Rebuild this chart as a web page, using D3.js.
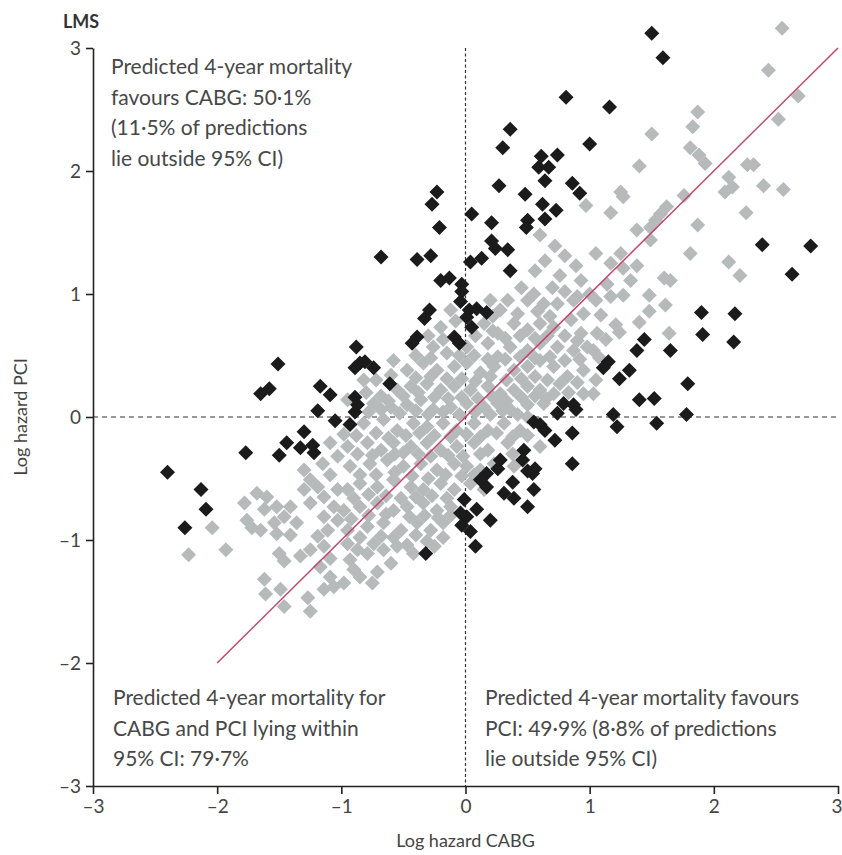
<!DOCTYPE html>
<html>
<head>
<meta charset="utf-8">
<script src="https://cdn.jsdelivr.net/npm/d3@7"></script>
<style>
  body { margin: 0; background: #fff; }
  text { font-family: Lato, "Open Sans", sans-serif; }
</style>
</head>
<body>
<script>
// ticks and labels
const xTicks = [-3, -2, -1, 0, 1, 2, 3];
const yTicks = [-3, -2, -1, 0, 1, 2, 3];
const panelTitle = 'LMS';
const xTitle = 'Log hazard CABG';
const yTitle = 'Log hazard PCI';
const topLeftNote = ['Predicted 4-year mortality', 'favours CABG: 50·1%', '(11·5% of predictions', 'lie outside 95% CI)'];
const bottomLeftNote = ['Predicted 4-year mortality for', 'CABG and PCI lying within', '95% CI: 79·7%'];
const bottomRightNote = ['Predicted 4-year mortality favours', 'PCI: 49·9% (8·8% of predictions', 'lie outside 95% CI)'];
const identityLine = [[-2, -2], [3, 3]];

// predictions outside the 95% CI (black)
const outsidePoints = [
  [1.50,3.12],[1.59,2.92],[0.81,2.60],[1.16,2.52],[0.36,2.34],[0.30,2.19],[1.00,2.22],
  [0.61,2.12],[0.74,2.13],[0.59,2.03],[0.67,2.03],[0.64,1.92],[0.27,1.88],[0.48,1.81],
  [0.86,1.90],[0.92,1.82],[0.62,1.73],[0.73,1.68],[0.64,1.61],[0.50,1.60],[0.49,1.54],
  [0.05,1.65],[0.21,1.58],[-0.23,1.83],[-0.27,1.73],[-0.21,1.54],[-0.68,1.30],[-0.39,1.28],[-0.28,1.31],
  [0.21,1.43],[0.24,1.37],[0.34,1.36],[0.04,1.26],[0.13,1.29],[0.36,1.19],
  [-0.20,1.11],[-0.13,1.13],[-0.03,1.08],
  [2.39,1.40],[2.78,1.39],[2.63,1.16],
  [-1.51,0.43],[-1.65,0.19],[-1.58,0.23],[-1.17,0.25],[-1.09,0.18],[-1.19,0.05],[-1.05,-0.03],
  [-1.30,-0.12],[-1.44,-0.21],[-1.50,-0.31],[-1.33,-0.25],[-1.23,-0.23],[-1.22,-0.29],[-1.77,-0.29],
  [-2.40,-0.45],[-2.13,-0.59],[-2.09,-0.75],[-2.26,-0.90],
  [-0.03,1.02],[-0.29,0.87],[-0.33,0.80],[-0.04,0.94],[0.03,0.87],[0.09,0.88],[0.17,0.85],[0.01,0.81],[0.05,0.73],
  [-0.39,0.65],[-0.43,0.60],[-0.09,0.65],[-0.05,0.60],[-0.88,0.57],[-0.85,0.44],[-0.81,0.45],[-0.74,0.40],[-0.89,0.40],
  [-0.61,0.27],[-0.89,0.16],[-0.87,0.10],[-0.89,0.04],[-0.93,-0.06],
  [0.79,0.11],[0.87,0.10],[0.74,0.03],[0.89,0.06],[0.55,-0.04],[0.60,-0.06],[0.64,-0.11],[0.72,-0.19],[0.86,-0.13],[0.86,-0.38],
  [0.47,-0.27],[0.46,-0.35],[0.56,-0.42],[0.50,-0.44],[0.54,-0.46],[0.28,-0.35],[0.26,-0.42],[0.17,-0.46],[0.12,-0.51],[0.17,-0.57],
  [0.38,-0.53],[0.55,-0.59],[0.31,-0.62],[0.39,-0.66],[0.50,-0.73],
  [-0.01,-0.67],[-0.04,-0.78],[0.01,-0.81],[0.09,-0.75],[-0.03,-0.88],[0.04,-0.93],[0.20,-0.84],
  [1.90,0.85],[2.17,0.84],[1.91,0.67],[2.16,0.61],[1.44,0.63],[1.38,0.54],[1.65,0.54],[1.15,0.45],[1.11,0.40],
  [1.32,0.38],[1.24,0.31],[1.79,0.27],[1.40,0.14],[1.52,0.15],[1.19,0.02],[1.22,-0.08],[1.54,-0.05],[1.78,0.02],
  [-0.32,-1.11],[0.08,-1.05]
];

// predictions within the 95% CI (grey)
const withinPoints = [
  [2.55,3.16],[2.44,2.82],[2.68,2.61],[2.52,2.42],[1.87,2.48],[1.83,2.36],[1.50,2.30],[1.81,2.19],[1.88,2.13],[1.93,2.06],
  [1.40,2.04],[2.27,2.05],[2.32,2.05],[2.12,1.95],[2.09,1.83],[2.15,1.87],[2.40,1.88],[2.56,1.85],[1.25,1.83],[1.27,1.79],
  [1.76,1.80],[1.17,1.66],[2.26,1.66],[1.62,1.71],[1.57,1.65],[1.53,1.60],[1.49,1.54],[1.87,1.56],[1.38,1.52],[1.05,1.33],
  [1.25,1.33],[1.17,1.25],[1.27,1.21],[1.38,1.23],[1.81,1.33],[2.12,1.26],[2.21,1.15],[1.60,1.13],[1.65,1.11],[1.14,1.08],
  [1.33,1.11],[1.49,1.44],
  [0.60,1.48],[0.72,1.39],[0.64,1.27],[0.80,1.31],[0.89,1.23],[0.56,1.19],[0.76,1.15],[0.93,1.11],[0.97,1.72],
  [1.00,1.00],[0.90,0.98],[0.80,1.02],[0.70,1.05],[0.45,1.05],[0.55,1.00],
  [1.48,0.99],[1.61,0.91],[1.48,0.86],[1.40,0.77],[1.24,0.69],[1.64,0.68],[1.09,0.83],[1.06,0.68],[1.13,0.63],[1.03,0.54],
  [1.17,0.98],[1.27,0.99],[1.03,0.19],[1.05,0.95],[1.21,0.75],
  [0.34,0.95],[0.50,0.95],[0.63,0.92],[0.74,0.92],[0.87,0.95],[-0.12,0.87],[0.20,0.95],[0.28,0.87],
  [-0.20,0.73],[0.15,0.76],[0.26,0.68],[0.39,0.76],[0.50,0.71],[0.60,0.76],[0.71,0.73],[0.85,0.79],[0.93,0.68],
  [-0.26,0.57],[-0.15,0.52],[0.01,0.57],[0.18,0.60],[0.26,0.49],[0.36,0.57],[0.50,0.54],[0.60,0.60],[0.74,0.57],[0.87,0.54],[0.98,0.57],
  [-0.47,0.38],[-0.34,0.44],[-0.23,0.38],[-0.09,0.41],[0.01,0.44],[0.12,0.36],[0.23,0.41],[0.39,0.38],[0.50,0.41],[0.60,0.46],
  [0.71,0.41],[0.82,0.33],[0.95,0.38],[-0.82,0.30],
  [-0.68,0.17],[-0.55,0.22],[-0.44,0.25],[-0.31,0.27],[-0.20,0.22],[-0.09,0.25],[0.04,0.22],[0.18,0.25],[0.28,0.19],[0.39,0.22],
  [0.50,0.25],[0.60,0.22],[0.71,0.19],[0.95,0.19],
  [-0.95,0.14],[-0.74,0.11],[-0.60,0.08],[-0.47,0.10],[-0.36,0.14],[-0.26,0.06],[-0.12,0.08],[0.01,0.11],[0.15,0.08],[0.26,0.11],
  [0.36,0.06],[0.50,0.10],[0.63,0.11],
  [-0.82,-0.05],[-0.66,-0.02],[-0.55,-0.11],[-0.42,-0.05],[-0.31,-0.08],[-0.18,-0.05],[-0.07,-0.11],[0.07,-0.05],[0.18,-0.11],
  [0.31,-0.05],[0.44,-0.11],[0.50,0.00],
  [-0.95,-0.24],[-0.79,-0.21],[-0.68,-0.27],[-0.58,-0.21],[-0.44,-0.24],[-0.31,-0.21],[-0.20,-0.27],[-0.07,-0.24],[0.07,-0.21],
  [0.18,-0.27],[0.34,-0.21],[0.60,-0.24],
  [-0.93,-0.40],[-0.77,-0.38],[-0.63,-0.35],[-0.50,-0.40],[-0.36,-0.38],[-0.23,-0.43],[-0.09,-0.38],[0.01,-0.40],[0.12,-0.43],
  [0.23,-0.38],[0.39,-0.40],
  [-0.95,-0.59],[-0.85,-0.54],[-0.71,-0.57],[-0.58,-0.51],[-0.44,-0.57],[-0.34,-0.59],[-0.20,-0.54],[-0.09,-0.59],[0.04,-0.54],[0.15,-0.59],
  [-0.98,-0.76],[-0.85,-0.73],[-0.71,-0.70],[-0.58,-0.76],[-0.47,-0.73],[-0.34,-0.70],[-0.23,-0.76],[-0.12,-0.73],
  [-0.95,-0.92],[-0.79,-0.89],[-0.66,-0.86],[-0.52,-0.92],[-0.39,-0.86],[-0.28,-0.92],[-0.18,-0.86],[-0.68,-0.97],
  [-1.30,-0.43],[-1.25,-0.51],[-1.30,-0.59],[-1.19,-0.57],[-1.14,-0.65],[-1.25,-0.70],[-1.09,-0.47],[-1.03,-0.59],[-1.06,-0.73],
  [-1.14,-0.81],[-1.03,-0.84],[-1.11,-0.92],[-1.19,-0.97],[-1.68,-0.62],[-1.60,-0.65],[-1.78,-0.70],[-1.76,-0.84],[-1.62,-0.75],
  [-1.52,-0.73],[-1.46,-0.81],[-1.41,-0.73],[-1.36,-0.86],[-1.54,-0.86],[-1.65,-0.92],[-1.72,-0.90],[-1.52,-0.95],[-1.41,-0.96],
  [-2.04,-0.90],[-1.09,-0.21],[-1.03,-0.32],
  [-2.23,-1.12],[-1.93,-1.08],[-1.50,-1.11],[-1.46,-1.17],[-1.33,-1.13],[-1.25,-1.08],[-1.14,-1.05],[-1.09,-1.15],[-1.62,-1.32],
  [-1.61,-1.44],[-1.49,-1.40],[-1.46,-1.54],[-1.27,-1.47],[-1.25,-1.58],[-1.14,-1.40],[-1.06,-1.38],[-1.09,-1.30],[-1.17,-1.22],
  [-0.95,-1.03],[-0.87,-1.08],[-0.93,-1.16],[-0.79,-1.11],[-0.74,-1.03],[-0.66,-1.08],[-0.55,-1.05],[-0.47,-1.04],[-0.42,-1.11],
  [-0.60,-1.19],[-0.71,-1.26],[-0.85,-1.30],[-0.75,-1.35],[-0.90,-1.24],[-0.98,-1.35],[-0.25,-1.05],[-0.31,-1.01],
  [0.22,0.82],[0.42,0.84],[0.58,0.86],[0.68,0.82],[0.95,0.84],[-0.08,0.78],
  [-0.30,0.66],[-0.18,0.63],[0.08,0.66],[0.22,0.70],[0.32,0.64],[0.44,0.66],[0.56,0.64],[0.66,0.66],[0.80,0.66],[0.90,0.62],
  [-0.58,0.46],[-0.40,0.50],[-0.28,0.48],[-0.05,0.50],[0.07,0.50],[0.18,0.47],[0.32,0.47],[0.44,0.49],[0.56,0.48],[0.68,0.49],
  [0.80,0.46],[0.92,0.47],[1.08,0.48],
  [-0.72,0.30],[-0.60,0.34],[-0.40,0.32],[-0.28,0.33],[-0.15,0.31],[-0.03,0.31],[0.08,0.29],[0.20,0.33],[0.33,0.30],[0.45,0.31],
  [0.56,0.33],[0.66,0.30],[0.76,0.27],[0.90,0.28],[1.05,0.30],
  [-0.80,0.20],[-0.62,0.13],[-0.50,0.17],[-0.38,0.20],[-0.25,0.16],[-0.14,0.15],[-0.03,0.16],[0.10,0.15],[0.22,0.16],[0.33,0.13],
  [0.45,0.16],[0.56,0.17],[0.65,0.15],[0.83,0.20],
  [-0.78,0.04],[-0.68,0.06],[-0.53,0.03],[-0.40,0.05],[-0.30,0.02],[-0.18,0.04],[-0.05,0.02],[0.08,0.04],[0.20,0.02],[0.30,0.05],[0.42,0.02],
  [-0.98,-0.14],[-0.88,-0.15],[-0.72,-0.13],[-0.62,-0.17],[-0.48,-0.15],[-0.37,-0.13],[-0.25,-0.15],[-0.12,-0.16],[0.01,-0.14],
  [0.12,-0.16],[0.25,-0.13],[0.38,-0.16],[0.50,-0.15],
  [-0.87,-0.30],[-0.75,-0.31],[-0.57,-0.30],[-0.50,-0.29],[-0.38,-0.30],[-0.28,-0.32],[-0.14,-0.31],[-0.02,-0.32],[0.12,-0.30],[0.38,-0.30],
  [-1.15,-0.38],[-0.85,-0.47],[-0.72,-0.47],[-0.57,-0.45],[-0.43,-0.48],[-0.30,-0.50],[-0.16,-0.47],[-0.03,-0.48],[0.07,-0.47],
  [-0.90,-0.66],[-0.78,-0.63],[-0.64,-0.64],[-0.52,-0.66],[-0.40,-0.65],[-0.27,-0.64],[-0.15,-0.66],
  [-0.92,-0.83],[-0.78,-0.80],[-0.64,-0.79],[-0.45,-0.81],[-0.33,-0.80],[-0.22,-0.82],[-0.12,-0.80],
  [-0.85,-0.98],[-0.58,-0.98],[-0.40,-0.96],[-0.18,-0.98]
];

const width = 842, height = 855;
const svg = d3.select('body').append('svg').attr('width', width).attr('height', height);

const x = d3.scaleLinear().domain([-3, 3]).range([93, 838]);
const y = d3.scaleLinear().domain([-3, 3]).range([786, 48]);

const fmt = d => d < 0 ? '\u2013' + Math.abs(d) : String(d);

// reference lines at zero
svg.append('line')
  .attr('x1', x(0)).attr('x2', x(0)).attr('y1', y(3)).attr('y2', y(-3))
  .style('stroke', '#333').style('stroke-width', 1.2).style('stroke-dasharray', '3,2.5');
svg.append('line')
  .attr('x1', x(-3)).attr('x2', x(3)).attr('y1', y(0)).attr('y2', y(0))
  .style('stroke', '#777').style('stroke-width', 1.6).style('stroke-dasharray', '5,4');

const diamond = 'M0,-7.5L7.5,0L0,7.5L-7.5,0Z';

svg.append('g').selectAll('path')
  .data(withinPoints)
  .enter().append('path')
  .attr('d', diamond)
  .attr('transform', d => `translate(${x(d[0])},${y(d[1])})`)
  .style('fill', '#b6babb');

svg.append('line')
  .attr('x1', x(identityLine[0][0])).attr('y1', y(identityLine[0][1]))
  .attr('x2', x(identityLine[1][0])).attr('y2', y(identityLine[1][1]))
  .style('stroke', '#c2476a').style('stroke-width', 1.5);

svg.append('g').selectAll('path')
  .data(outsidePoints)
  .enter().append('path')
  .attr('d', diamond)
  .attr('transform', d => `translate(${x(d[0])},${y(d[1])})`)
  .style('fill', '#1b1b1b');

// axes
const xAxis = svg.append('g').attr('transform', `translate(0,${y(-3)})`)
  .call(d3.axisBottom(x).tickValues(xTicks).tickFormat(fmt).tickSize(8).tickSizeOuter(0).tickPadding(6));
const yAxis = svg.append('g').attr('transform', `translate(${x(-3)},0)`)
  .call(d3.axisLeft(y).tickValues(yTicks).tickFormat(fmt).tickSize(7).tickSizeOuter(0).tickPadding(5));
[xAxis, yAxis].forEach(a => {
  a.select('.domain').style('stroke', '#222').style('stroke-width', 1.6);
  a.selectAll('.tick line').style('stroke', '#222').style('stroke-width', 1.6);
  a.selectAll('.tick text').style('font-family', 'Lato').style('font-size', '19px').style('fill', '#444');
});
// keep the last x label inside the page
xAxis.selectAll('.tick text').filter(d => d === 3).attr('text-anchor', 'end').attr('dx', 4);

svg.append('text').text(panelTitle)
  .attr('x', 63).attr('y', 28)
  .style('font-weight', 'bold').style('font-size', '18px').style('fill', '#333');

svg.append('text').text(xTitle)
  .attr('x', x(0)).attr('y', 847).attr('text-anchor', 'middle')
  .style('font-size', '18px').style('fill', '#444');

svg.append('text').text(yTitle)
  .attr('transform', `translate(27,${y(0)}) rotate(-90)`).attr('text-anchor', 'middle')
  .style('font-size', '18px').style('fill', '#444');

function note(lines, x0, y0) {
  svg.append('text')
    .attr('x', x0).attr('y', y0)
    .style('font-size', '21px').style('fill', '#484848')
    .selectAll('tspan').data(lines).enter().append('tspan')
    .attr('x', x0).attr('dy', (d, i) => i === 0 ? 0 : 30.5)
    .text(d => d);
}
note(topLeftNote, 111, 74);
note(bottomLeftNote, 113, 705);
note(bottomRightNote, 485, 705);
</script>
</body>
</html>
